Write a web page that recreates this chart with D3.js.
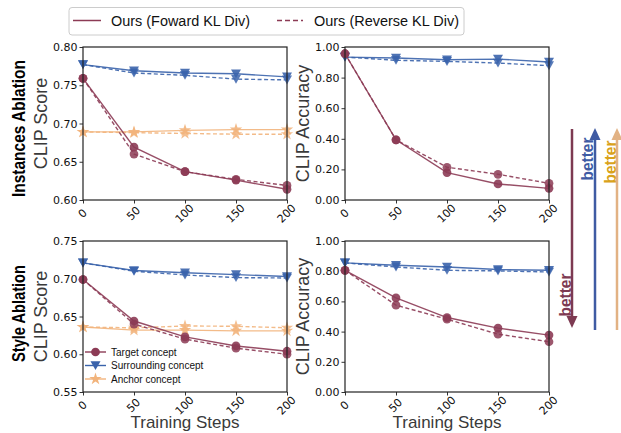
<!DOCTYPE html>
<html><head><meta charset="utf-8">
<script src="https://cdn.jsdelivr.net/npm/d3@7"></script>
<style>body{margin:0;background:#fff}svg{display:block}</style>
</head><body><svg id="c" width="621" height="433"></svg>
<script>
const steps = [0, 50, 100, 150, 200];
const xTicks = [0, 50, 100, 150, 200];
// Instances ablation - CLIP score
const instScoreTargetFwd = [0.759, 0.669, 0.637, 0.626, 0.614];
const instScoreTargetRev = [0.759, 0.660, 0.637, 0.627, 0.619];
const instScoreSurrFwd = [0.777, 0.769, 0.766, 0.765, 0.761];
const instScoreSurrRev = [0.777, 0.766, 0.763, 0.758, 0.757];
const instScoreAnchorFwd = [0.689, 0.689, 0.691, 0.692, 0.692];
const instScoreAnchorRev = [0.689, 0.688, 0.687, 0.686, 0.686];
// Instances ablation - CLIP accuracy
const instAccTargetFwd = [0.956, 0.393, 0.179, 0.105, 0.076];
const instAccTargetRev = [0.956, 0.393, 0.214, 0.168, 0.109];
const instAccSurrFwd = [0.934, 0.928, 0.917, 0.921, 0.902];
const instAccSurrRev = [0.934, 0.913, 0.906, 0.895, 0.878];
// Style ablation - CLIP score
const styleScoreTargetFwd = [0.699, 0.644, 0.623, 0.611, 0.604];
const styleScoreTargetRev = [0.699, 0.640, 0.620, 0.608, 0.600];
const styleScoreSurrFwd = [0.721, 0.711, 0.708, 0.7055, 0.703];
const styleScoreSurrRev = [0.721, 0.710, 0.705, 0.7015, 0.701];
const styleScoreAnchorFwd = [0.636, 0.632, 0.632, 0.631, 0.631];
const styleScoreAnchorRev = [0.636, 0.635, 0.6375, 0.637, 0.635];
// Style ablation - CLIP accuracy
const styleAccTargetFwd = [0.806, 0.623, 0.493, 0.423, 0.377];
const styleAccTargetRev = [0.806, 0.575, 0.482, 0.383, 0.333];
const styleAccSurrFwd = [0.855, 0.839, 0.828, 0.811, 0.806];
const styleAccSurrRev = [0.855, 0.828, 0.806, 0.802, 0.795];

const yTicksScoreTop = [0.60, 0.65, 0.70, 0.75, 0.80];
const yTicksScoreBot = [0.55, 0.60, 0.65, 0.70, 0.75];
const yTicksAcc = [0, 0.2, 0.4, 0.6, 0.8, 1.0];

const C_T = "#8c3b55", C_S = "#3a63ab", C_A = "#f2b47c";
const svg = d3.select("#c");
const SANS = "Liberation Sans, Arial, sans-serif";
const DJ = "DejaVu Sans, sans-serif";

const starPath = d3.symbol().type(d3.symbolStar).size(48)();
const circPath = d3.symbol().type(d3.symbolCircle).size(60)();
const triPath = "M-5,-4.3L5,-4.3L0,4.5Z";

function panel(x0, x1, y0, y1, dom, yt, fmt, series, ylabel, xlabel) {
  const x = d3.scaleLinear().domain([0, 200]).range([x0, x1]);
  const y = d3.scaleLinear().domain(dom).range([y1, y0]);
  const g = svg.append("g");
  const ya = g.append("g").attr("transform", `translate(${x0},0)`)
    .call(d3.axisLeft(y).tickValues(yt).tickFormat(d3.format(fmt)).tickSize(3.5).tickPadding(2));
  ya.select(".domain").remove();
  ya.selectAll("text").attr("font-family", DJ).attr("font-size", 11).attr("fill", "#111");
  ya.selectAll("line").attr("stroke", "#333");
  const xa = g.append("g").attr("transform", `translate(0,${y1})`)
    .call(d3.axisBottom(x).tickValues(xTicks).tickSize(3.5).tickFormat(""));
  xa.select(".domain").remove();
  xa.selectAll("line").attr("stroke", "#333");
  g.selectAll(".xtl").data(xTicks).enter().append("text")
    .attr("transform", d => `translate(${x(d)},${y1 + 14}) rotate(-45)`)
    .attr("text-anchor", "middle").attr("dominant-baseline", "middle")
    .attr("font-family", DJ).attr("font-size", 11).attr("fill", "#111").text(d => d);
  series.forEach(s => {
    const line = d3.line().x((d, i) => x(steps[i])).y(d => y(d));
    g.append("path").datum(s.v).attr("d", line).attr("fill", "none")
      .attr("stroke", s.c).attr("stroke-width", 1.4).attr("stroke-opacity", 0.9)
      .attr("stroke-dasharray", s.dash ? "4,2.5" : null);
    g.selectAll(null).data(s.v).enter().append("path")
      .attr("d", s.m).attr("fill", s.c).attr("fill-opacity", s.dash ? 0.85 : 0.9)
      .attr("transform", (d, i) => `translate(${x(steps[i])},${y(d)})`);
  });
  g.append("rect").attr("x", x0).attr("y", y0).attr("width", x1 - x0).attr("height", y1 - y0)
    .attr("fill", "none").attr("stroke", "#222").attr("stroke-width", 1.2);
  g.append("text").attr("transform", `translate(${x0 - 36},${(y0 + y1) / 2}) rotate(-90)`)
    .attr("text-anchor", "middle").attr("font-family", SANS).attr("font-size", 18).attr("fill", "#3a3a3a").text(ylabel);
  if (xlabel) g.append("text").attr("x", (x0 + x1) / 2).attr("y", 428).attr("text-anchor", "middle")
    .attr("font-family", SANS).attr("font-size", 17).attr("fill", "#3a3a3a").text(xlabel);
  return g;
}

panel(83, 287, 47, 200, [0.60, 0.80], yTicksScoreTop, ".2f", [
  {v: instScoreAnchorFwd, c: C_A, m: starPath}, {v: instScoreAnchorRev, c: C_A, m: starPath, dash: 1},
  {v: instScoreSurrFwd, c: C_S, m: triPath}, {v: instScoreSurrRev, c: C_S, m: triPath, dash: 1},
  {v: instScoreTargetFwd, c: C_T, m: circPath}, {v: instScoreTargetRev, c: C_T, m: circPath, dash: 1}
], "CLIP Score");
panel(345, 549, 47, 200, [0, 1], yTicksAcc, ".2f", [
  {v: instAccSurrFwd, c: C_S, m: triPath}, {v: instAccSurrRev, c: C_S, m: triPath, dash: 1},
  {v: instAccTargetFwd, c: C_T, m: circPath}, {v: instAccTargetRev, c: C_T, m: circPath, dash: 1}
], "CLIP Accuracy");
panel(83, 287, 241, 392, [0.55, 0.75], yTicksScoreBot, ".2f", [
  {v: styleScoreAnchorFwd, c: C_A, m: starPath}, {v: styleScoreAnchorRev, c: C_A, m: starPath, dash: 1},
  {v: styleScoreSurrFwd, c: C_S, m: triPath}, {v: styleScoreSurrRev, c: C_S, m: triPath, dash: 1},
  {v: styleScoreTargetFwd, c: C_T, m: circPath}, {v: styleScoreTargetRev, c: C_T, m: circPath, dash: 1}
], "CLIP Score", "Training Steps");
panel(345, 549, 241, 392, [0, 1], yTicksAcc, ".2f", [
  {v: styleAccSurrFwd, c: C_S, m: triPath}, {v: styleAccSurrRev, c: C_S, m: triPath, dash: 1},
  {v: styleAccTargetFwd, c: C_T, m: circPath}, {v: styleAccTargetRev, c: C_T, m: circPath, dash: 1}
], "CLIP Accuracy", "Training Steps");

const legItems = [["Target concept", C_T, circPath], ["Surrounding concept", C_S, triPath], ["Anchor concept", C_A, starPath]];
legItems.forEach((d, i) => {
  const yy = 352 + i * 13.5;
  svg.append("line").attr("x1", 85).attr("x2", 106).attr("y1", yy).attr("y2", yy).attr("stroke", d[1]).attr("stroke-width", 1.4);
  svg.append("path").attr("d", d[2]).attr("fill", d[1]).attr("transform", `translate(95.5,${yy})`);
  svg.append("text").attr("x", 111).attr("y", yy + 3.5).attr("font-family", SANS).attr("font-size", 10).attr("fill", "#111").text(d[0]);
});

svg.append("rect").attr("x", 69).attr("y", 7.5).attr("width", 395).attr("height", 27.5).attr("rx", 3)
  .attr("fill", "#fff").attr("stroke", "#ccc");
svg.append("line").attr("x1", 73).attr("x2", 101).attr("y1", 20.5).attr("y2", 20.5).attr("stroke", C_T).attr("stroke-width", 1.5);
svg.append("text").attr("x", 111).attr("y", 26).attr("font-family", SANS).attr("font-size", 15.5).attr("fill", "#111")
  .attr("textLength", 139).attr("lengthAdjust", "spacingAndGlyphs").text("Ours (Foward KL Div)");
svg.append("line").attr("x1", 277).attr("x2", 303).attr("y1", 20.5).attr("y2", 20.5).attr("stroke", C_T).attr("stroke-width", 1.5).attr("stroke-dasharray", "5,3");
svg.append("text").attr("x", 314).attr("y", 26).attr("font-family", SANS).attr("font-size", 15.5).attr("fill", "#111")
  .attr("textLength", 145).attr("lengthAdjust", "spacingAndGlyphs").text("Ours (Reverse KL Div)");

svg.append("text").attr("transform", "translate(24.5,128.5) rotate(-90)").attr("text-anchor", "middle")
  .attr("font-family", SANS).attr("font-weight", "bold").attr("font-size", 19).attr("fill", "#000")
  .attr("textLength", 137).attr("lengthAdjust", "spacingAndGlyphs").text("Instances Ablation");
svg.append("text").attr("transform", "translate(24.5,313.5) rotate(-90)").attr("text-anchor", "middle")
  .attr("font-family", SANS).attr("font-weight", "bold").attr("font-size", 19).attr("fill", "#000")
  .attr("textLength", 97).attr("lengthAdjust", "spacingAndGlyphs").text("Style Ablation");

function arrow(xx, ya, yb, col, up) {
  svg.append("line").attr("x1", xx).attr("x2", xx).attr("y1", up ? yb : ya).attr("y2", up ? ya + 10 : yb - 10)
    .attr("stroke", col).attr("stroke-width", 2.5);
  const tip = up ? ya : yb, base = up ? ya + 12 : yb - 12;
  svg.append("path").attr("d", `M${xx - 5.5},${base}L${xx + 5.5},${base}L${xx},${tip}Z`).attr("fill", col);
}
arrow(572, 129, 328, "#7d3a52", false);
arrow(595, 128, 330, "#3f5ba3", true);
arrow(617, 128, 330, "#e2b284", true);
function better(xx, yy, col) {
  svg.append("text").attr("transform", `translate(${xx},${yy}) rotate(-90)`).attr("text-anchor", "middle")
    .attr("font-family", SANS).attr("font-weight", "bold").attr("font-size", 17).attr("fill", col)
    .attr("textLength", 43).attr("lengthAdjust", "spacingAndGlyphs").text("better");
}
better(592.5, 159, "#3f5ba3");
better(615.5, 162, "#d9a21b");
better(570.5, 295, "#7d3a52");
</script></body></html>
